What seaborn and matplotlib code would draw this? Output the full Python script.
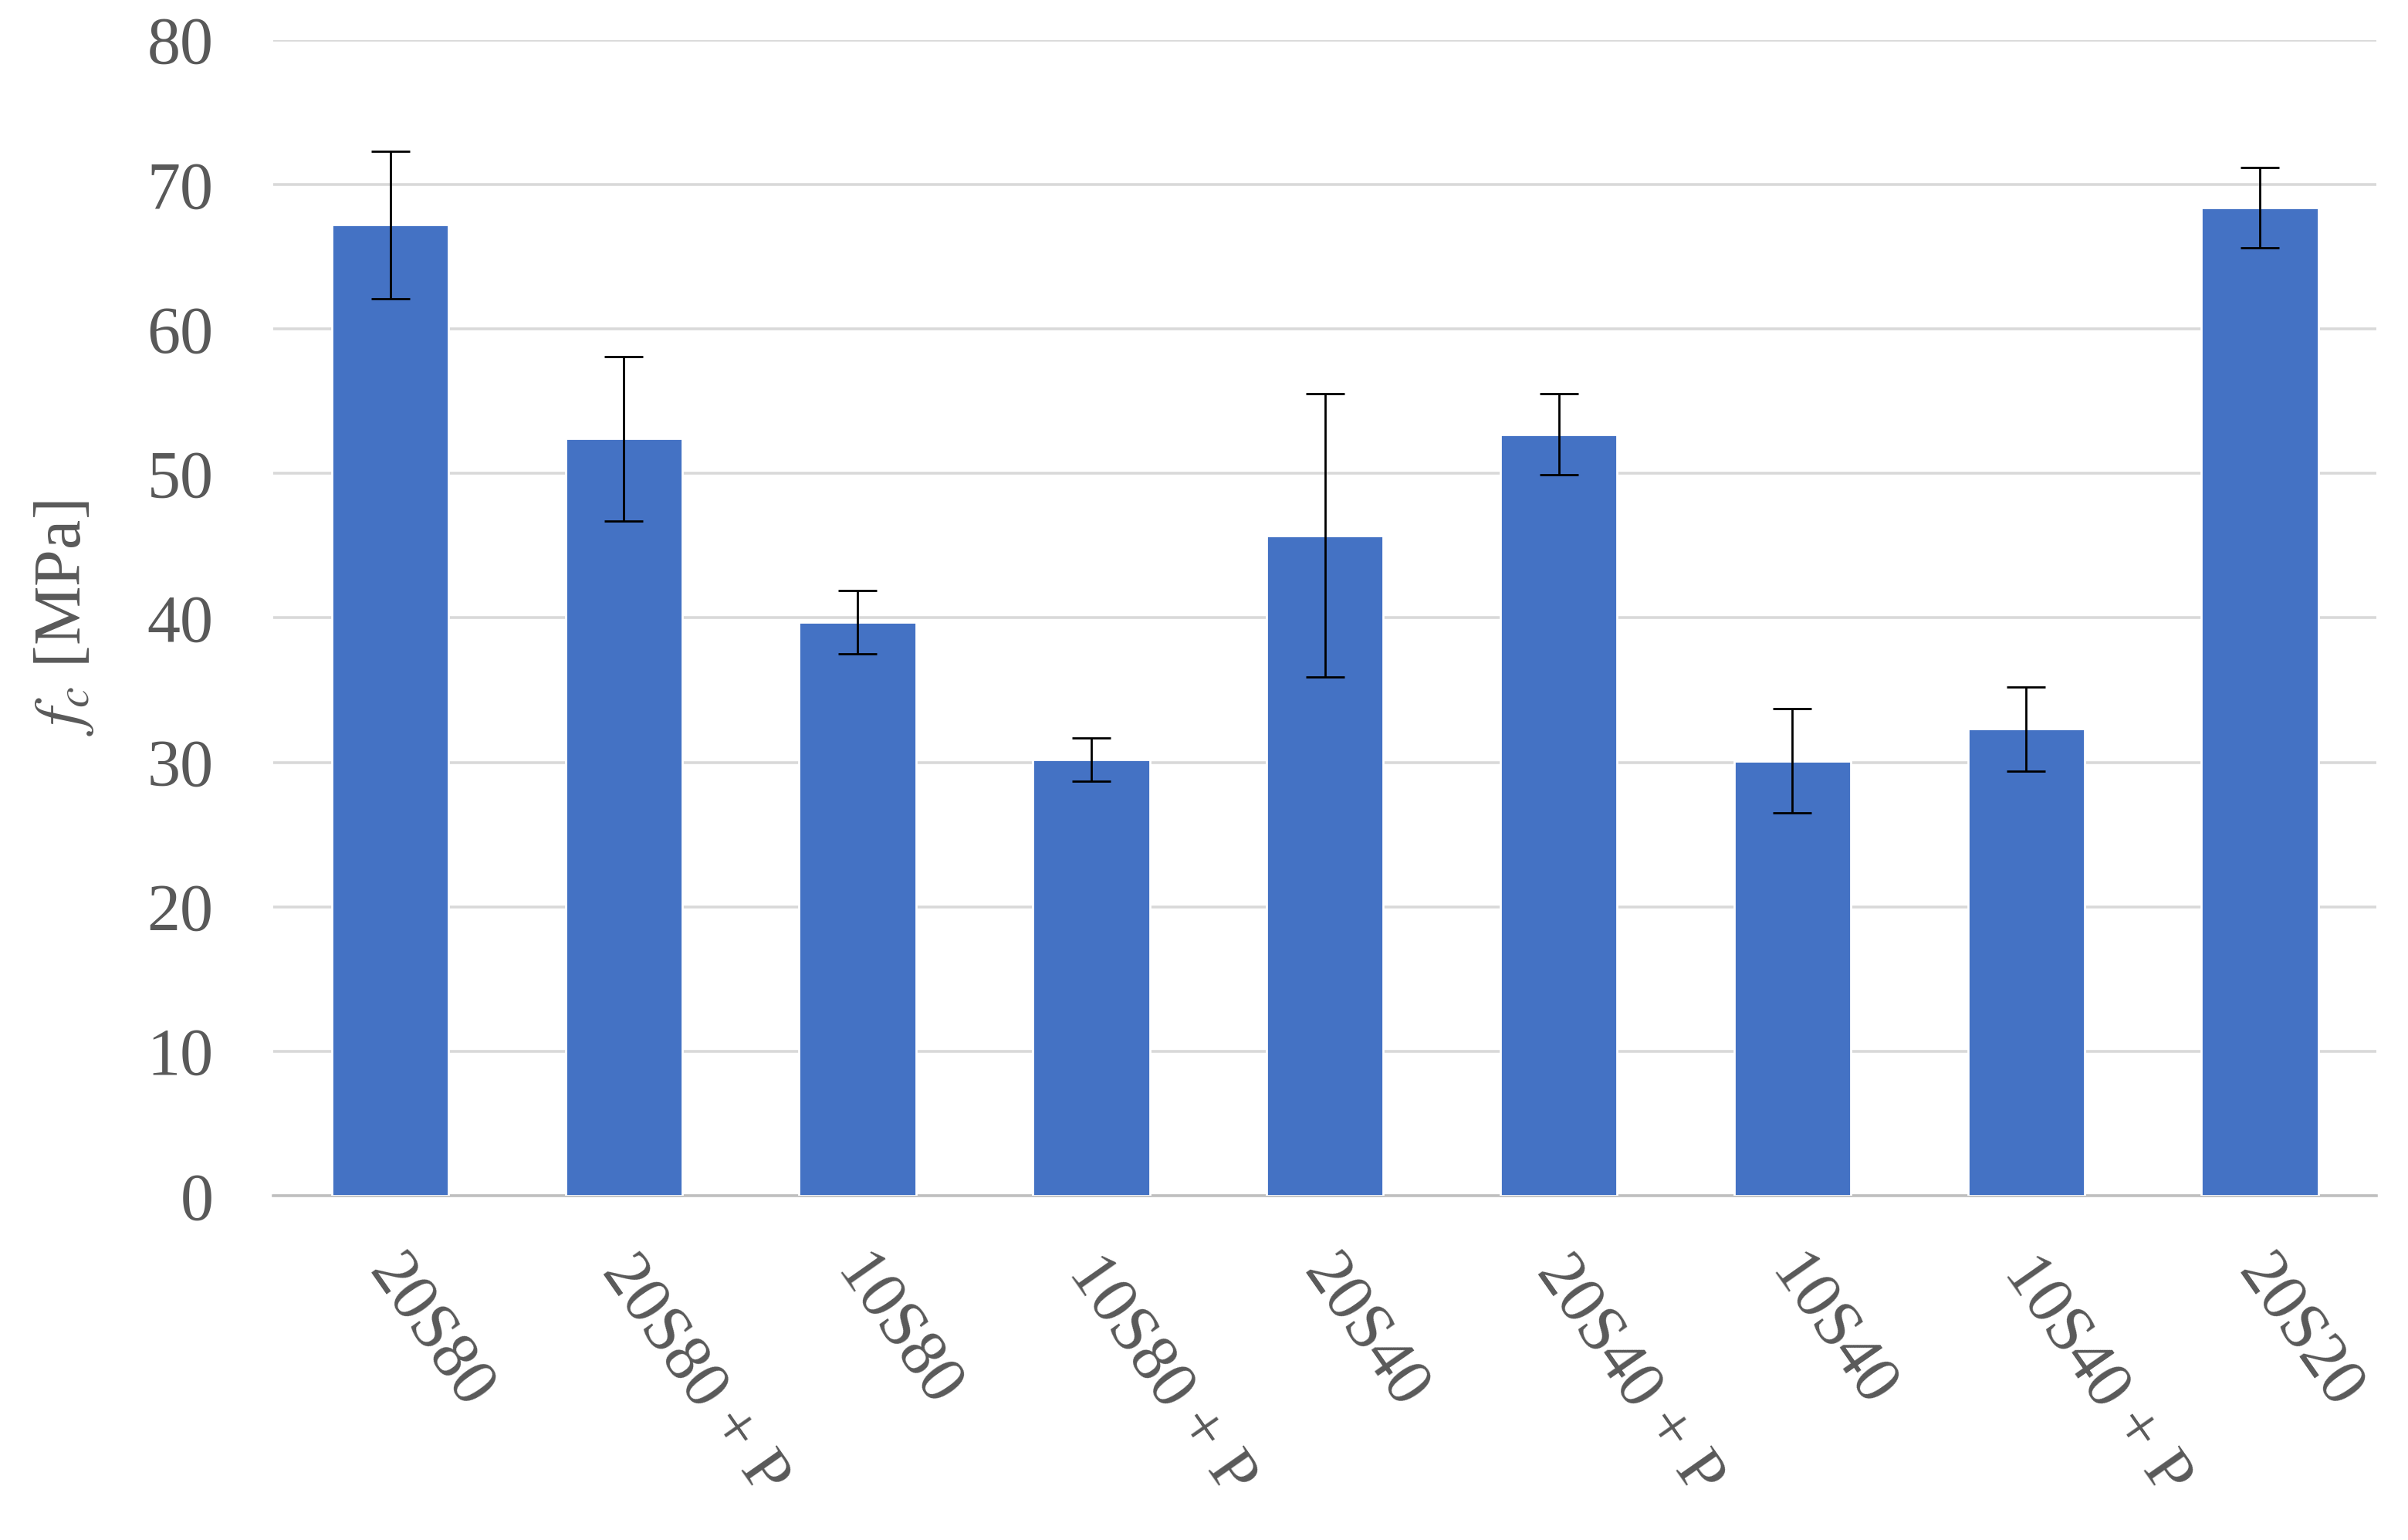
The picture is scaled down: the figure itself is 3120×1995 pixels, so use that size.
import numpy as np
import pandas as pd
import matplotlib
matplotlib.use('Agg')
import matplotlib.pyplot as plt
import seaborn as sns

mixes = ['20S80', '20S80 + P', '10S80', '10S80 + P', '20S40',
         '20S40 + P', '10S40', '10S40 + P', '20S20']
fc_mean = [67.2, 52.4, 39.7, 30.2, 45.7, 52.7, 30.1, 32.3, 68.4]
fc_err = [5.1, 5.7, 2.2, 1.5, 9.8, 2.8, 3.6, 2.9, 2.8]

df = pd.DataFrame({'mix': mixes, 'fc': fc_mean})

sns.set_theme(style='white')
plt.rcParams['font.family'] = ['Liberation Serif', 'DejaVu Serif']
plt.rcParams['mathtext.fontset'] = 'stix'

fig = plt.figure(figsize=(15.6, 9.975), dpi=200)
ax = fig.add_axes([0.1135, 0.2236, 0.8735, 0.7504])

sns.barplot(data=df, x='mix', y='fc', color='#4472C4', saturation=1,
            width=0.5, errorbar=None, ax=ax, zorder=3)
ax.errorbar(np.arange(len(mixes)), fc_mean, yerr=fc_err, fmt='none',
            ecolor='black', elinewidth=1.0, capsize=9, capthick=1.0, zorder=4)

ax.set_ylim(0, 80)
ax.set_xlim(-0.5, len(mixes) - 0.5)
ax.set_yticks(range(0, 81, 10))
ax.yaxis.grid(True, color='#d9d9d9', linewidth=1.3, zorder=0)
ax.set_axisbelow(True)
for side in ['top', 'right', 'left']:
    ax.spines[side].set_visible(False)
ax.spines['bottom'].set_color('#bfbfbf')
ax.spines['bottom'].set_linewidth(1.3)

ax.tick_params(axis='both', length=0, labelsize=31, labelcolor='#595959')
ax.tick_params(axis='y', pad=28)
ax.set_xlabel('')
ax.set_xticks(range(len(mixes)))
ax.set_xticklabels(mixes, rotation=-55, ha='left', rotation_mode='anchor')
for lbl in ax.get_xticklabels():
    lbl.set_transform(lbl.get_transform() +
                      matplotlib.transforms.ScaledTranslation(0.1, -0.27, fig.dpi_scale_trans))

ax.set_ylabel('$f_c$ [MPa]', fontsize=31, color='#595959', labelpad=24)

fig.savefig('out.png', dpi=200)
